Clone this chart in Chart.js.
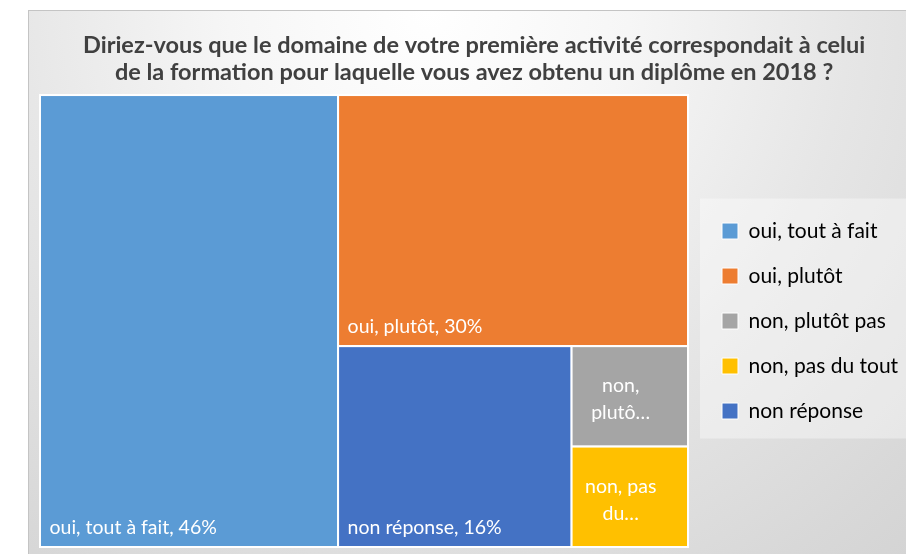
<!DOCTYPE html>
<html lang="fr">
<head>
<meta charset="utf-8">
<title>Treemap - domaine de la première activité</title>
<script src="https://cdn.jsdelivr.net/npm/chart.js@4.4.1/dist/chart.umd.min.js"></script>
<style>
    html, body { margin: 0; padding: 0; background: #fff; overflow: hidden; width: 906px; height: 554px; }
    #box {
        position: absolute; left: 28px; top: 10px; width: 900px; height: 560px;
        border: 1px solid #c4c4c4;
        background: radial-gradient(circle at 400px 0px, #ffffff 0px, #f6f6f6 200px, #e6e6e6 420px, #d8d8d8 650px, #d0d0d0 800px);
    }
    #treemap { display: block; }
</style>
</head>
<body>
<div id="box"><canvas id="treemap" width="900" height="560"></canvas></div>
<script>
// données (en %)
const categories = ['oui, tout à fait', 'oui, plutôt', 'non, plutôt pas', 'non, pas du tout', 'non réponse'];
const values = [46, 30, 4, 4, 16];
const colors = ['#5B9BD5', '#ED7D31', '#A5A5A5', '#FFC000', '#4472C4'];
// étiquettes telles qu'affichées (tronquées dans les petites cases)
const cellLabels = [
    ['oui, tout à fait, 46%'],
    ['oui, plutôt, 30%'],
    ['non,', 'plutô…'],
    ['non, pas', 'du…'],
    ['non réponse, 16%']
];

const FONT = 'Lato, "Open Sans", sans-serif';
const LEGEND_SIZE = 21;
const LEGEND_PAD = 24;
const LEGEND_BOX = 16;

// largeur de la légende calculée comme Chart.js le fait, pour caler la zone du graphique
const measureCtx = document.createElement('canvas').getContext('2d');
measureCtx.font = LEGEND_SIZE + 'px ' + FONT;
const legendTextW = Math.max(...categories.map(c => measureCtx.measureText(c).width));
const legendW = LEGEND_PAD + LEGEND_BOX + LEGEND_SIZE / 2 + legendTextW + 10;
const plotRight = 659;   // bord droit de la zone du treemap dans le canvas
const gapRight = 10;     // espace entre treemap et légende

// algorithme "squarified" : renvoie des rectangles en fractions [0..1]
function squarify(vals, w, h) {
    const total = vals.reduce((a, b) => a + b, 0);
    const items = vals.map((v, i) => ({ i, a: v / total * w * h })).sort((p, q) => q.a - p.a);
    const out = [];
    let x = 0, y = 0, W = w, H = h;
    let row = [];

    function worst(r, side) {
        const s = r.reduce((acc, it) => acc + it.a, 0);
        const len = s / side;
        let m = 0;
        r.forEach(it => {
            const o = it.a / len;
            m = Math.max(m, len / o, o / len);
        });
        return m;
    }

    function layoutRow(r) {
        const s = r.reduce((acc, it) => acc + it.a, 0);
        if (W >= H) {
            const cw = s / H;
            let yy = y;
            r.forEach(it => { const ch = it.a / cw; out[it.i] = { x0: x / w, y0: yy / h, x1: (x + cw) / w, y1: (yy + ch) / h }; yy += ch; });
            x += cw; W -= cw;
        } else {
            const rh = s / W;
            let xx = x;
            r.forEach(it => { const rw = it.a / rh; out[it.i] = { x0: xx / w, y0: y / h, x1: (xx + rw) / w, y1: (y + rh) / h }; xx += rw; });
            y += rh; H -= rh;
        }
    }

    items.forEach(it => {
        const side = Math.min(W, H);
        if (row.length === 0 || worst(row.concat([it]), side) <= worst(row, side)) {
            row.push(it);
        } else {
            layoutRow(row);
            row = [it];
        }
    });
    if (row.length) layoutRow(row);
    return out;
}

const treemapPlugin = {
    id: 'treemapCells',
    beforeDatasetsDraw(chart) {
        const { ctx, chartArea, scales } = chart;
        const rects = squarify(values, chartArea.right - chartArea.left, chartArea.bottom - chartArea.top);

        rects.forEach((r, i) => {
            const left = scales.x.getPixelForValue(r.x0 * 100);
            const right = scales.x.getPixelForValue(r.x1 * 100);
            const top = scales.y.getPixelForValue(100 - r.y0 * 100);
            const bottom = scales.y.getPixelForValue(100 - r.y1 * 100);

            ctx.save();
            ctx.fillStyle = colors[i];
            ctx.fillRect(left, top, right - left, bottom - top);
            ctx.strokeStyle = '#ffffff';
            ctx.lineWidth = 2;
            ctx.strokeRect(left, top, right - left, bottom - top);

            ctx.fillStyle = '#ffffff';
            ctx.font = '19.5px ' + FONT;
            ctx.textBaseline = 'middle';
            const lines = cellLabels[i];
            if (lines.length === 1) {
                ctx.textAlign = 'left';
                ctx.fillText(lines[0], left + 9.5, bottom - 19);
            } else {
                ctx.textAlign = 'center';
                const cx = (left + right) / 2 - 9;
                const cy = (top + bottom) / 2 + 3;
                const lh = 27;
                lines.forEach((ln, k) => {
                    ctx.fillText(ln, cx, cy + (k - (lines.length - 1) / 2) * lh);
                });
            }
            ctx.restore();
        });
    }
};

const legendBackground = {
    id: 'legendBackground',
    beforeDraw(chart) {
        const lg = chart.legend;
        if (!lg || !lg.legendHitBoxes || !lg.legendHitBoxes.length) return;
        const boxes = lg.legendHitBoxes;
        const top = Math.min(...boxes.map(b => b.top)) - 22;
        const bottom = Math.max(...boxes.map(b => b.top + b.height)) + 17;
        const { ctx } = chart;
        ctx.save();
        ctx.fillStyle = 'rgba(255,255,255,0.38)';
        ctx.fillRect(chart.chartArea.right + 12, top, chart.width, bottom - top);
        ctx.restore();
    }
};

new Chart(document.getElementById('treemap'), {
    type: 'scatter',
    data: {
        datasets: [{ label: 'treemap', data: [] }]
    },
    options: {
        responsive: false,
        animation: false,
        layout: { padding: { left: 11, right: 900 - plotRight - gapRight - legendW, top: 0, bottom: 24 } },
        scales: {
            x: { type: 'linear', min: 0, max: 100, display: false },
            y: {
                type: 'linear', min: 0, max: 100, position: 'right',
                grid: { display: false }, border: { display: false },
                ticks: { display: false },
                afterFit: scale => { scale.width = gapRight; }
            }
        },
        plugins: {
            title: {
                display: true,
                text: ['Diriez-vous que le domaine de votre première activité correspondait à celui',
                       'de la formation pour laquelle vous avez obtenu un diplôme en 2018 ?'],
                color: '#404040',
                font: { family: FONT, size: 23.5, weight: 'bold', lineHeight: 1.15 },
                padding: { top: 20.5, bottom: 9.5 }
            },
            legend: {
                position: 'right',
                fullSize: false,
                labels: {
                    color: '#404040',
                    font: { family: FONT, size: LEGEND_SIZE },
                    boxWidth: LEGEND_BOX,
                    boxHeight: LEGEND_BOX,
                    padding: LEGEND_PAD,
                    generateLabels: () => categories.map((c, i) => ({
                        text: c,
                        fillStyle: colors[i],
                        strokeStyle: '#ffffff',
                        lineWidth: 1,
                        hidden: false,
                        index: i
                    }))
                },
                onClick: () => {}
            },
            tooltip: { enabled: false }
        }
    },
    plugins: [legendBackground, treemapPlugin]
});
</script>
</body>
</html>
